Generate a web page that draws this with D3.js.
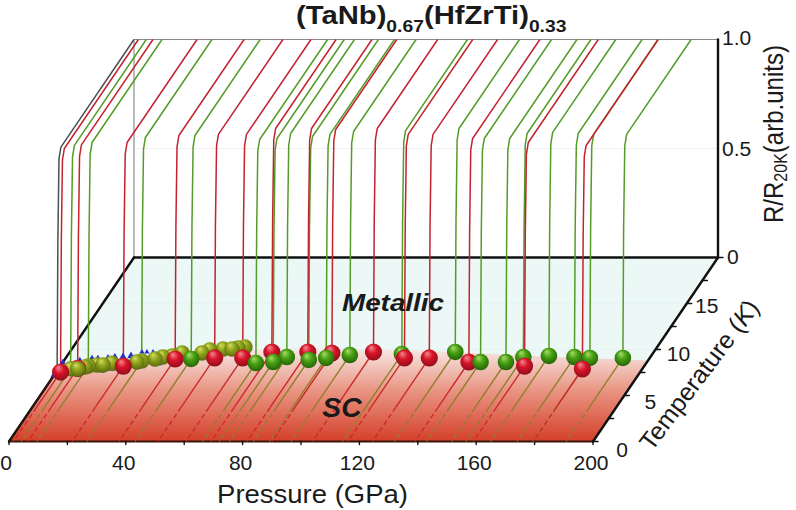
<!DOCTYPE html>
<html>
<head>
<meta charset="utf-8">
<title>(TaNb)0.67(HfZrTi)0.33</title>
<script src="https://cdn.jsdelivr.net/npm/d3@7"></script>
<style>
  html, body { margin: 0; padding: 0; background: #fff; }
  svg { display: block; }
  text { font-family: "Liberation Sans", Arial, sans-serif; fill: #1a1a1a; }
</style>
</head>
<body>
<div id="diagram"></div>
<script>
// Curves: pressure (GPa) and Tc (K)
const grayPressure = [0];
const grayTc = [7.7];

const redPressure = [1.5, 6.5, 21.6, 37.7, 51, 60.6, 69.2, 81.5, 90, 104, 116, 124.5, 139, 159, 179.5];
const redTc = [7.55, 7.95, 8.2, 8.97, 9.08, 9.08, 9.73, 9.73, 9.62, 9.73, 9.08, 9.08, 8.64, 8.2, 7.88];

const greenPressure = [4.2, 9.6, 26.7, 43.2, 66.3, 72, 75.5, 83.7, 89.2, 96.6, 114.2, 132, 143, 151.7, 156.5, 165, 174, 179.5, 190.8];
const greenTc = [7.9, 8.2, 8.75, 8.97, 8.53, 8.64, 9.18, 8.86, 9.08, 9.4, 9.5, 9.73, 8.64, 8.64, 9.18, 9.3, 9.18, 9.08, 9.08];

// Balls without a curve in the crowded low pressure part
const olivePressure = [6.7, 8.7, 12.3, 14.4, 17, 25.3, 30.8, 33, 36, 38.7, 45.5, 47.5, 51.8, 54.9, 56.7, 58.8];
const oliveTc = [7.88, 8.1, 8.32, 8.32, 8.5, 8.64, 8.97, 9.18, 9.29, 9.62, 9.62, 9.95, 10.05, 10.05, 10.16, 10.27];

const bluePressure = [0, 0, 5.3, 9, 11, 14.7, 16.6, 19.4, 21.9, 18.2, 15.4, 24.7, 26.4, 28.5, 31, 33.7];
const blueTc = [7.2, 8.6, 8.86, 9.08, 9.08, 8.97, 9.18, 9.18, 9.29, 8, 7.66, 9.73, 9.73, 9.73, 8.53, 8.42];
const blueSize = [22, 16, 14, 14, 14, 32, 22, 26, 26, 34, 10, 12, 12, 12, 8, 8];

// Shape of the resistive transition above Tc
const riseOffset = [0, 0.12, 0.3, 0.6];
const riseR = [0, 0.6, 0.96, 1];

// Edge between the SC and metallic parts of the floor
const edgePressure = [0, 20, 40, 60, 80, 120, 160, 200];
const edgeTc = [7.6, 8.4, 9, 10, 10.2, 9.9, 9.3, 8.8];

const pressureTicks = [0, 20, 40, 60, 80, 100, 120, 140, 160, 180, 200];
const pressureLabels = [0, 40, 80, 120, 160, 200];
const tempTicks = [0, 2.5, 5, 7.5, 10, 12.5, 15, 17.5, 20];
const tempLabels = [0, 5, 10, 15];
const resistanceLabels = [["1.0", 1], ["0.5", 0.5], ["0", 0]];

const width = 796;
const height = 510;
const solidTo = 3.7; // floor lines turn dashed below this temperature

// Oblique projection: pressure runs right, temperature goes back, R goes up
const xPressure = d3.scaleLinear().domain([0, 200]).range([9, 593]);
const xDepth = d3.scaleLinear().domain([0, 20]).range([0, 125]);
const yDepth = d3.scaleLinear().domain([0, 20]).range([441.5, 257.5]);
const yRise = d3.scaleLinear().domain([0, 1]).range([0, -218]);

const px = (p, t) => xPressure(p) + xDepth(t);
const py = (t, r) => yDepth(t) + yRise(r);

const svg = d3.select("#diagram")
  .append("svg")
  .attr("width", width)
  .attr("height", height);

const defs = svg.append("defs");

function addBallGradient(id, light, mid, dark) {
  const g = defs.append("radialGradient")
    .attr("id", id)
    .attr("cx", 0.5).attr("cy", 0.42).attr("r", 0.6)
    .attr("fx", 0.36).attr("fy", 0.24);
  g.append("stop").attr("offset", "0%").attr("stop-color", light);
  g.append("stop").attr("offset", "45%").attr("stop-color", mid);
  g.append("stop").attr("offset", "100%").attr("stop-color", dark);
}
addBallGradient("ballRed", "#f28a8f", "#d9152a", "#8c0c1a");
addBallGradient("ballGreen", "#a9dc6b", "#47a012", "#235f08");
addBallGradient("ballOlive", "#d8de60", "#8da41c", "#58660c");

const floorGrad = defs.append("linearGradient")
  .attr("id", "floorRed")
  .attr("gradientUnits", "userSpaceOnUse")
  .attr("x1", 0).attr("x2", 0)
  .attr("y1", 348).attr("y2", 441);
floorGrad.append("stop").attr("offset", "0%").attr("stop-color", "#f8e9e6");
floorGrad.append("stop").attr("offset", "45%").attr("stop-color", "#e99684");
floorGrad.append("stop").attr("offset", "100%").attr("stop-color", "#d4402a");

// Floor
const floorCorners = [[0, 0], [200, 0], [200, 20], [0, 20]];
svg.append("polygon")
  .attr("points", floorCorners.map(d => [px(d[0], d[1]), py(d[1], 0)].join(",")).join(" "))
  .attr("fill", "#ebf8f6");

const scPoints = [[0, 0], [200, 0]].concat(edgePressure.slice().reverse().map((p, i) => [p, edgeTc[edgeTc.length - 1 - i]]));
svg.append("polygon")
  .attr("points", scPoints.map(d => [px(d[0], d[1]), py(d[1], 0)].join(",")).join(" "))
  .attr("fill", "url(#floorRed)");

// Faint grid lines
[10, 15].forEach(t => {
  svg.append("line")
    .attr("x1", px(0, t)).attr("x2", px(200, t))
    .attr("y1", py(t, 0)).attr("y2", py(t, 0))
    .attr("stroke", "#e3f2f0").attr("stroke-width", 0.7);
});
svg.append("line")
  .attr("x1", px(0, 20)).attr("x2", px(200, 20))
  .attr("y1", py(20, 0.5)).attr("y2", py(20, 0.5))
  .attr("stroke", "#efefef").attr("stroke-width", 0.8);

// Wall frame
svg.append("line")
  .attr("x1", px(0, 20)).attr("x2", px(200, 20))
  .attr("y1", py(20, 1)).attr("y2", py(20, 1))
  .attr("stroke", "#8a8a8a").attr("stroke-width", 1);
svg.append("line")
  .attr("x1", px(0, 20)).attr("x2", px(0, 20))
  .attr("y1", py(20, 1)).attr("y2", py(20, 0))
  .attr("stroke", "#777").attr("stroke-width", 1);

// Heavy axis lines
const heavy = (x1, y1, x2, y2, w, color) => svg.append("line")
  .attr("x1", x1).attr("y1", y1).attr("x2", x2).attr("y2", y2)
  .attr("stroke", color || "#111").attr("stroke-width", w)
  .attr("stroke-linecap", "round");

heavy(px(0, 20), py(20, 0), px(200, 20), py(20, 0), 2.4);
heavy(px(200, 20), py(20, 0), px(200, 20), py(20, 1), 2.4);
heavy(px(0, 0), py(0, 0), px(0, 20), py(20, 0), 2.4);
heavy(px(200, 0), py(0, 0), px(200, 20), py(20, 0), 2.4);
heavy(px(0, 0), py(0, 0), px(200, 0), py(0, 0), 1.8, "#3a140a");

pressureTicks.forEach(p => {
  heavy(px(p, 0), py(0, 0), px(p, 0), py(0, 0) + 3, 1.4);
});
tempTicks.forEach(t => {
  heavy(px(200, t), py(t, 0), px(200, t) + 5, py(t, 0), 1.4);
});

// Curves
const wallLine = d3.line().x(d => px(d.p, d.t)).y(d => py(d.t, d.r));

function drawCurve(p, tc, wallColor, floorColor) {
  const wall = riseOffset.map((o, i) => ({ p: p, t: tc + o, r: riseR[i] }));
  wall.push({ p: p, t: 20, r: 1 });
  svg.append("path")
    .attr("d", wallLine(wall))
    .attr("fill", "none")
    .attr("stroke", wallColor)
    .attr("stroke-width", 1.5)
    .attr("stroke-linejoin", "round");
  svg.append("path")
    .attr("d", wallLine([{ p: p, t: tc, r: 0 }, { p: p, t: solidTo, r: 0 }]))
    .attr("fill", "none")
    .attr("stroke", floorColor)
    .attr("stroke-width", 1.4);
  svg.append("path")
    .attr("d", wallLine([{ p: p, t: solidTo, r: 0 }, { p: p, t: 0, r: 0 }]))
    .attr("fill", "none")
    .attr("stroke", floorColor)
    .attr("stroke-width", 1.4)
    .attr("stroke-dasharray", "5 3");
}

grayPressure.forEach((p, i) => drawCurve(p, grayTc[i], "#4a4f55", "#3a140a"));
greenPressure.forEach((p, i) => drawCurve(p, greenTc[i], "#549c26", "#8f7f2a"));
redPressure.forEach((p, i) => drawCurve(p, redTc[i], "#c4222e", "#cc2a2a"));

// Blue markers sit behind the balls
const triangle = d3.symbol().type(d3.symbolTriangle);
bluePressure.forEach((p, i) => {
  svg.append("path")
    .attr("d", triangle.size(blueSize[i])())
    .attr("transform", `translate(${px(p, blueTc[i])},${py(blueTc[i], 0)})`)
    .attr("fill", "#2430c8");
});

// Balls, back ones first
const balls = [];
redPressure.forEach((p, i) => balls.push({ p: p, t: redTc[i], r: 8.6, fill: "ballRed" }));
greenPressure.forEach((p, i) => balls.push({
  p: p, t: greenTc[i],
  r: p < 30 ? 7.8 : 8.3,
  fill: p < 30 ? "ballOlive" : "ballGreen"
}));
olivePressure.forEach((p, i) => balls.push({ p: p, t: oliveTc[i], r: 7.8, fill: "ballOlive" }));
balls.sort((a, b) => d3.descending(a.t, b.t));

svg.selectAll("circle.ball")
  .data(balls)
  .enter()
  .append("circle")
  .attr("class", "ball")
  .attr("cx", d => px(d.p, d.t))
  .attr("cy", d => py(d.t, 0))
  .attr("r", d => d.r)
  .attr("fill", d => `url(#${d.fill})`);

// Stretched text, the reference letters are not in the font's proportions
function label(str, x, y, size, opts) {
  const o = opts || {};
  return svg.append("text")
    .attr("transform", `translate(${x},${y}) rotate(${o.rotate || 0}) scale(${o.stretch || 1.08},1)`)
    .attr("text-anchor", o.anchor || "middle")
    .attr("font-size", size)
    .attr("font-weight", o.weight || "normal")
    .attr("font-style", o.italic ? "italic" : "normal")
    .text(str);
}

pressureLabels.forEach(p => {
  label(p, p === 0 ? 6 : px(p, 0) - 2, 470, 19.5);
});
tempLabels.forEach(t => {
  label(t, px(200, t) + 29 - 0.6 * t, py(t, 0) + 15 - 0.4 * t, 19.5);
});
resistanceLabels.forEach(d => {
  label(d[0], 722 + (d[0] === "0" ? 5 : 0), py(20, d[1]) + 7 + (d[1] === 0 ? -1 : 0) + (d[1] === 1 ? -2 : 0), 19.5, { anchor: "start" });
});

label("Pressure (GPa)", 312.5, 503, 25, { stretch: 1.1 });
label("Metallic", 393, 311, 24, { weight: "bold", italic: true, stretch: 1.16 });
label("SC", 342, 417, 27, { weight: "bold", italic: true, stretch: 1.05 });

const tempTitle = label("Temperature (", 706, 380, 25, { rotate: -53, stretch: 1 });
tempTitle.append("tspan").attr("font-style", "italic").text("K");
tempTitle.append("tspan").text(")");

const rTitle = label("R/R", 783, 223, 27, { rotate: -90, stretch: 0.89, anchor: "start" });
rTitle.append("tspan").attr("font-size", 18).attr("dy", 4).text("20K");
rTitle.append("tspan").attr("dy", -4).text("(arb.units)");

// Title with subscripts
const title = label("(TaNb)", 296, 24, 25, { anchor: "start", weight: "bold", stretch: 1.17 });
title.append("tspan").attr("font-size", 16.5).attr("dy", 8).text("0.67");
title.append("tspan").attr("dy", -8).text("(HfZrTi)");
title.append("tspan").attr("font-size", 16.5).attr("dy", 8).text("0.33");
</script>
</body>
</html>
